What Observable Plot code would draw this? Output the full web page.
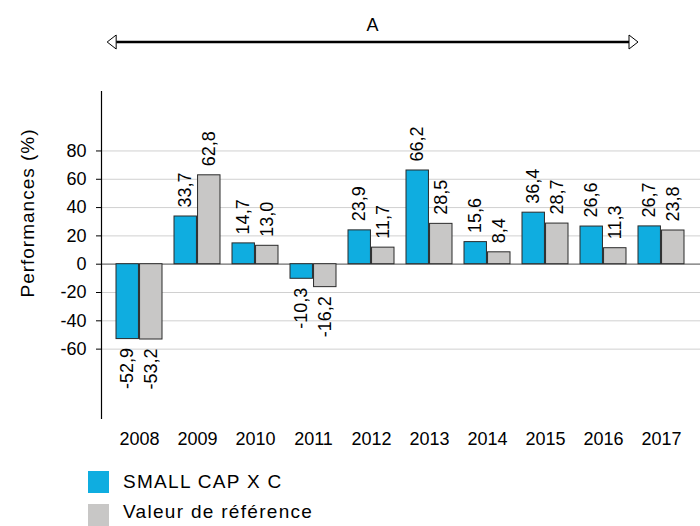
<!DOCTYPE html>
<html>
<head>
<meta charset="utf-8">
<script src="https://cdn.jsdelivr.net/npm/d3@7"></script>
<script src="https://cdn.jsdelivr.net/npm/@observablehq/plot@0.6"></script>
<style>
  html, body { margin: 0; padding: 0; background: #fff; }
  #chart { width: 700px; }
  .legend { position: relative; width: 700px; height: 66px; font-family: 'Liberation Sans', Arial, sans-serif; }
  .legend .sw { position: absolute; left: 88px; width: 21px; height: 22px; }
  .legend .lb { position: absolute; left: 123px; font-size: 19px; letter-spacing: 1.3px; line-height: 22px; color: #000; white-space: nowrap; }
</style>
</head>
<body>
<div id="chart"></div>
<div class="legend" id="legend"></div>
<script>
const years = ["2008", "2009", "2010", "2011", "2012", "2013", "2014", "2015", "2016", "2017"];
const fundValues = [-52.9, 33.7, 14.7, -10.3, 23.9, 66.2, 15.6, 36.4, 26.6, 26.7];
const benchValues = [-53.2, 62.8, 13.0, -16.2, 11.7, 28.5, 8.4, 28.7, 11.3, 23.8];
const seriesNames = ["SMALL CAP X C", "Valeur de référence"];
const seriesColors = ["#0fade0", "#c8c7c6"];
const yTicks = [-60, -40, -20, 0, 20, 40, 60, 80];
const yTitle = "Performances (%)";
const periodLabel = "A";

const fund = years.map((year, i) => ({year, series: seriesNames[0], value: fundValues[i]}));
const bench = years.map((year, i) => ({year, series: seriesNames[1], value: benchValues[i]}));

const W = 700, H = 460, ML = 101, MR = 0, MT = 91, MB = 42;
const xOpts = {paddingInner: 0.2, paddingOuter: 0.186, align: 0.5};
const xBand = d3.scaleBand().domain(years).range([ML, W - MR])
  .paddingInner(xOpts.paddingInner).paddingOuter(xOpts.paddingOuter).align(xOpts.align);
const bw = xBand.bandwidth();
const fmt = v => v.toFixed(1).replace(".", ",");
const font = "'Liberation Sans', Arial, sans-serif";

function labelMarks(rows, dx) {
  return [
    Plot.text(rows.filter(d => d.value >= 0), {x: "year", y: "value", text: d => fmt(d.value), rotate: -90, textAnchor: "start", dy: -9, dx, fontSize: 18, fill: "#000"}),
    Plot.text(rows.filter(d => d.value < 0), {x: "year", y: "value", text: d => fmt(d.value), rotate: -90, textAnchor: "end", dy: 9, dx, fontSize: 18, fill: "#000"})
  ];
}

const plot = Plot.plot({
  width: W, height: H,
  marginLeft: ML, marginRight: MR, marginTop: MT, marginBottom: MB,
  style: {fontFamily: font, fontSize: "18px", color: "#000", background: "#fff", overflow: "visible"},
  x: {type: "band", domain: years, ...xOpts},
  y: {domain: [-109, 122]},
  marks: [
    Plot.gridY(yTicks, {stroke: "#d0d0d0", strokeOpacity: 1, strokeWidth: 1}),
    Plot.ruleY([0], {stroke: "#7a7a7a", strokeWidth: 1.2}),
    Plot.barY(fund, {x: "year", y: "value", fill: seriesColors[0], stroke: "#2a2a2a", strokeWidth: 1, insetRight: bw / 2, insetLeft: 0}),
    Plot.barY(bench, {x: "year", y: "value", fill: seriesColors[1], stroke: "#2a2a2a", strokeWidth: 1, insetLeft: bw / 2, insetRight: 0}),
    ...labelMarks(fund, -bw / 4),
    ...labelMarks(bench, bw / 4),
    Plot.axisY(yTicks, {tickSize: 5, tickPadding: 10, tickFormat: d => String(d), label: null, stroke: "#000", fill: "#000"}),
    Plot.axisX({tickSize: 0, tickPadding: 14, label: null, fill: "#000"}),
    Plot.frame({anchor: "left", stroke: "#000", strokeWidth: 1.2}),
    Plot.text([yTitle], {frameAnchor: "left", dx: -74, dy: -42, rotate: -90, textAnchor: "middle", fontSize: 19, fill: "#000"})
  ]
});

document.getElementById("chart").appendChild(plot);

// letter spacing for the axis title
d3.select(plot).selectAll("text").filter(function() { return this.textContent === yTitle; })
  .attr("letter-spacing", "1px");

// period arrow annotation using the plot's x scale
const sx = plot.scale("x");
const xAt = sx && typeof sx.apply === "function" ? (v => sx.apply(v)) : (v => xBand(v));
const step = xBand.step();
const leftTip = xAt(years[0]) - step * 0.15;
const rightTip = xAt(years[years.length - 1]);
const ay = 42, headW = 9, headH = 7;
const svg = d3.select(plot);
const g = svg.append("g");
g.append("line").attr("x1", leftTip + headW).attr("x2", rightTip - headW).attr("y1", ay).attr("y2", ay)
  .attr("stroke", "#000").attr("stroke-width", 2.5);
g.append("path").attr("d", `M${leftTip},${ay}L${leftTip + headW},${ay - headH}L${leftTip + headW},${ay + headH}Z`)
  .attr("fill", "#fff").attr("stroke", "#000").attr("stroke-width", 1);
g.append("path").attr("d", `M${rightTip},${ay}L${rightTip - headW},${ay - headH}L${rightTip - headW},${ay + headH}Z`)
  .attr("fill", "#fff").attr("stroke", "#000").attr("stroke-width", 1);
g.append("text").attr("x", (leftTip + rightTip) / 2).attr("y", 31).attr("text-anchor", "middle")
  .attr("font-size", 18).attr("font-family", font).attr("fill", "#000").text(periodLabel);

// legend
const legend = document.getElementById("legend");
const tops = [11, 44];
seriesNames.forEach((name, i) => {
  const sw = document.createElement("div");
  sw.className = "sw"; sw.style.top = tops[i] + "px"; sw.style.background = seriesColors[i];
  const lb = document.createElement("div");
  lb.className = "lb"; lb.style.top = (tops[i] - (i === 1 ? 3 : 0)) + "px"; lb.textContent = name;
  legend.appendChild(sw); legend.appendChild(lb);
});
</script>
</body>
</html>
